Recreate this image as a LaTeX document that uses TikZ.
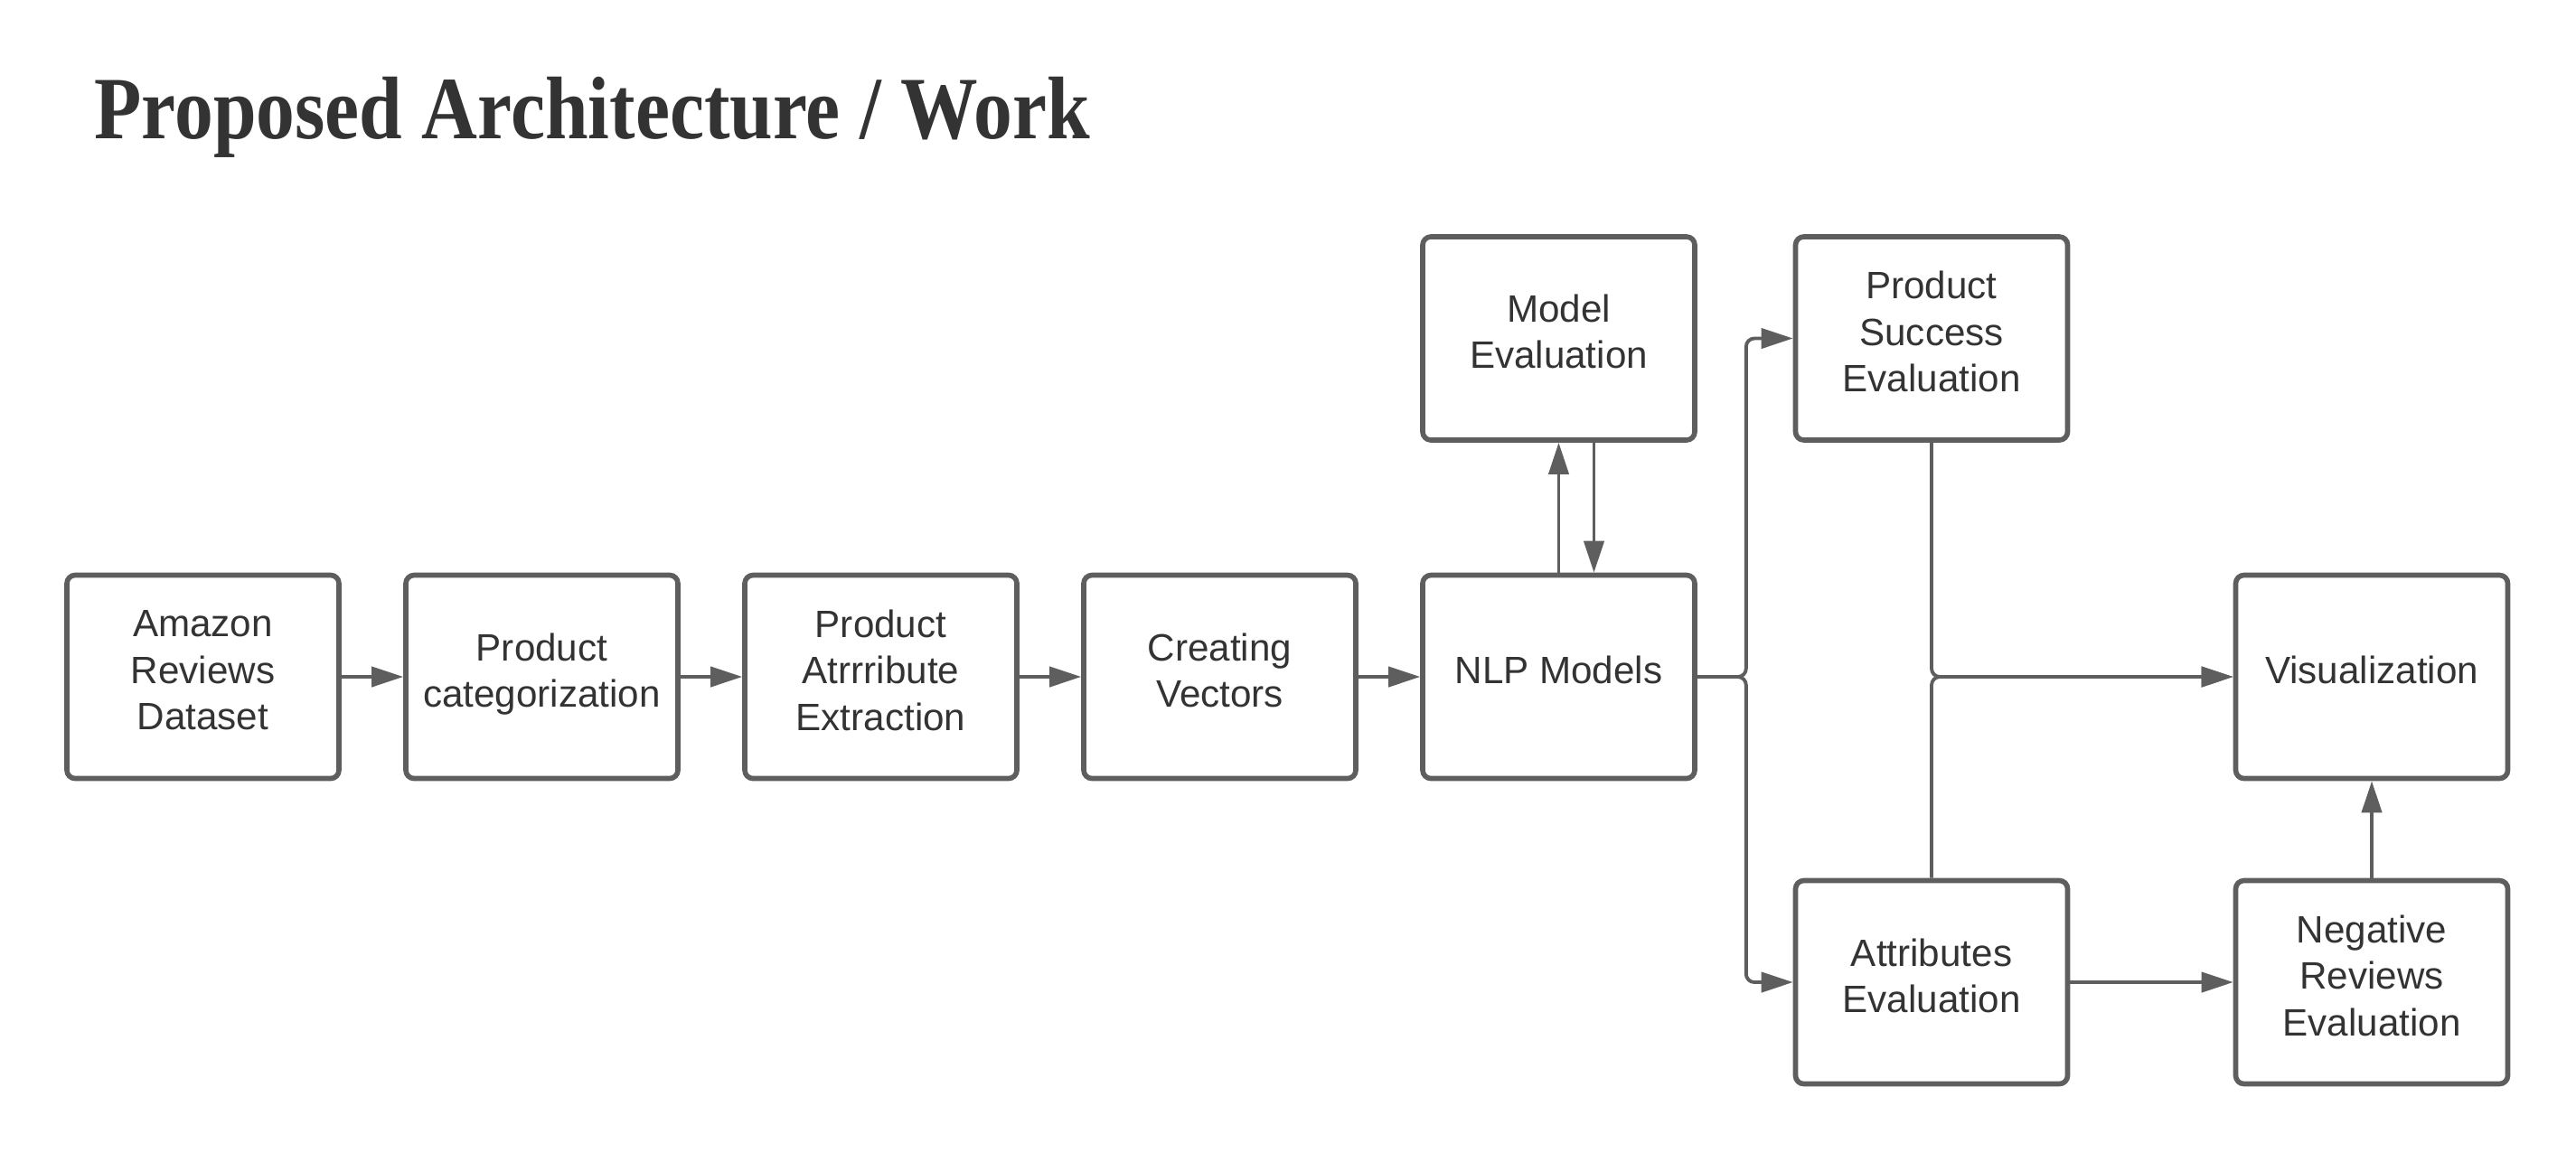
\documentclass[tikz,border=0pt]{standalone}
\usepackage{fontspec}
\setmainfont{Liberation Sans}
\newfontfamily\titlefont{Liberation Serif}
\usepackage{tikz}
\usetikzlibrary{shapes,arrows.meta}
\definecolor{boxgray}{HTML}{5E5E5E}
\definecolor{textgray}{HTML}{333333}
\tikzstyle{block} = [rectangle, draw=boxgray, line width=1.6pt, align=center, rounded corners=2.6pt, minimum width=3.01cm, minimum height=2.25cm, text depth=0.15cm, text=textgray, font=\fontsize{12}{14.6}\selectfont]
\tikzstyle{line} = [draw=boxgray, line width=1.1pt, -{Triangle[length=10pt, width=6.3pt]}]
\tikzstyle{heading} = [anchor=base west, inner sep=0pt, text=textgray, font=\titlefont\bfseries\fontsize{28}{32}\selectfont]

\begin{document}
\begin{tikzpicture}
\useasboundingbox (0, 0) rectangle (28.5, -12.75);

\node [heading, xscale=0.87, transform shape] at (1.04, -1.53) (title) {Proposed Architecture / Work};

% pipeline
\node [block] at (2.245, -7.49) (data) {Amazon\\Reviews\\Dataset};
\node [block] at (5.995, -7.49) (categ) {Product\\categorization};
\node [block] at (9.745, -7.49) (extract) {Product\\Atrrribute\\Extraction};
\node [block] at (13.495, -7.49) (vectors) {Creating\\Vectors};
\node [block] at (17.245, -7.49) (nlp) {NLP Models};
\path [line] (data.east) to (categ.west);
\path [line] (categ.east) to (extract.west);
\path [line] (extract.east) to (vectors.west);
\path [line] (vectors.east) to (nlp.west);

% model evaluation
\node [block] at (17.245, -3.745) (modeleval) {Model\\Evaluation};
\path [line] (nlp.north) to (modeleval.south);
\path [line] ([xshift=0.39cm]modeleval.south) to ([xshift=0.39cm]nlp.north);

% evaluations
\node [block] at (21.37, -3.745) (success) {Product\\Success\\Evaluation};
\node [block] at (21.37, -10.87) (attreval) {Attributes\\Evaluation};
\path [line, rounded corners=2.6pt] (nlp.east) -- ++(0.54, 0) |- (success.west);
\path [line, rounded corners=2.6pt] (nlp.east) -- ++(0.54, 0) |- (attreval.west);

% output
\node [block] at (26.24, -7.49) (vis) {Visualization};
\node [block] at (26.24, -10.87) (negrev) {Negative\\Reviews\\Evaluation};
\path [line, rounded corners=2.6pt] (success.south) |- (vis.west);
\path [line, rounded corners=2.6pt] (attreval.north) |- (vis.west);
\path [line] (attreval.east) to (negrev.west);
\path [line] (negrev.north) to (vis.south);

\end{tikzpicture}
\end{document}
